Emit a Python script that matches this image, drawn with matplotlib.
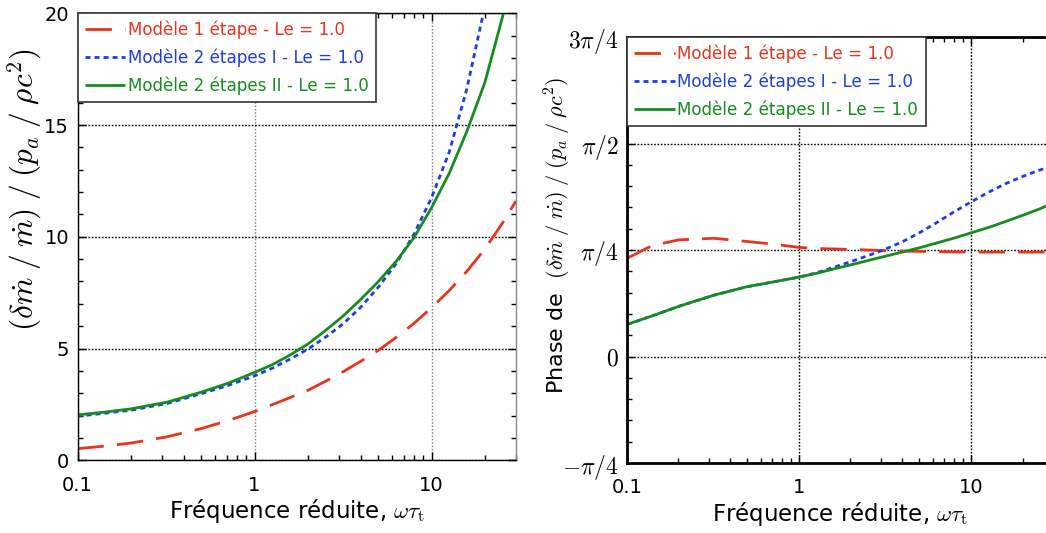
import numpy as np
import matplotlib
matplotlib.use("Agg")
import matplotlib.pyplot as plt
from matplotlib.ticker import FixedLocator, LogLocator, NullFormatter, FixedFormatter, MultipleLocator

# --- data -------------------------------------------------------------
labels = ["Modèle 1 étape - Le = 1.0",
          "Modèle 2 étapes I - Le = 1.0",
          "Modèle 2 étapes II - Le = 1.0"]

# reduced frequency samples (omega * tau_t)
freq = [0.1, 0.14, 0.2, 0.32, 0.5, 0.71, 1.0, 1.26, 1.58, 2.0, 2.51, 3.16, 3.98,
        5.01, 6.31, 7.94, 10.0, 12.6, 15.8, 20.0, 25.1, 30.0]

# amplitude of the response
amp_red = [0.52, 0.63, 0.77, 1.05, 1.42, 1.78, 2.18, 2.49, 2.80, 3.13, 3.53, 3.96, 4.43,
           4.92, 5.50, 6.12, 6.83, 7.60, 8.45, 9.45, 10.6, 11.6]
amp_blue = [1.97, 2.10, 2.24, 2.54, 2.98, 3.35, 3.78, 4.12, 4.52, 4.97, 5.50, 6.10, 6.85,
            7.75, 8.80, 10.1, 11.75, 13.8, 16.6, 20.3, 25.0, 29.0]
amp_green = [2.03, 2.15, 2.30, 2.60, 3.05, 3.45, 3.93, 4.28, 4.70, 5.20, 5.80, 6.45, 7.20,
             8.00, 8.90, 9.95, 11.3, 12.85, 14.7, 16.9, 19.8, 22.5]

# phase of the response, in units of pi/4
ph_red = [0.92, 1.04, 1.095, 1.11, 1.08, 1.055, 1.025, 1.015, 1.01, 1.005, 1.0, 0.995,
          0.99, 0.987, 0.985, 0.982, 0.98, 0.98, 0.98, 0.98, 0.98, 0.98]
ph_blue = [0.30, 0.38, 0.47, 0.575, 0.655, 0.70, 0.745, 0.785, 0.835, 0.89, 0.945, 1.005,
           1.075, 1.16, 1.255, 1.355, 1.45, 1.54, 1.62, 1.69, 1.75, 1.79]
ph_green = [0.30, 0.38, 0.47, 0.575, 0.655, 0.70, 0.745, 0.78, 0.82, 0.86, 0.90, 0.94,
            0.98, 1.02, 1.065, 1.11, 1.16, 1.21, 1.265, 1.325, 1.385, 1.44]

phase_ticks = [-1, 0, 1, 2, 3]
phase_ticklabels = [r"$-\pi/4$", r"$0$", r"$\pi/4$", r"$\pi/2$", r"$3\pi/4$"]

# --- style ------------------------------------------------------------
plt.rcParams["font.family"] = ["DejaVu Sans"]
plt.rcParams["mathtext.fontset"] = "cm"
plt.rcParams["lines.scale_dashes"] = False

RED = "#E8341C"
BLUE = "#1E3CE6"
GREEN = "#178C1E"
colors = [RED, BLUE, GREEN]
dashes = [(19, 9.5), (3.6, 2.9), None]
LW = 2.0
YLABEL_MATH = r"$(\delta\dot{m}\;/\;\dot{m})\;/\;(p_a\;/\;\rho c^2)$"

fig = plt.figure(figsize=(10.46, 5.33), dpi=100)
W, H = 1046, 533


def px_axes(x0, y0, x1, y1):
    return fig.add_axes([x0 / W, 1 - y1 / H, (x1 - x0) / W, (y1 - y0) / H])


ax1 = px_axes(77.5, 13.3, 516, 460.3)
ax2 = px_axes(626.7, 37, 1052.8, 463)


def draw(ax, series):
    handles = []
    for ys, c, d, lab in zip(series, colors, dashes, labels):
        ln, = ax.plot(freq, ys, color=c, lw=LW, label=lab, solid_capstyle="butt",
                      dash_capstyle="butt")
        if d is not None:
            ln.set_dashes(d)
        handles.append(ln)
    return handles


def decorate(ax, spine_lw, vgrid_color):
    ax.set_xscale("log")
    ax.set_xlim(0.1, 30)
    ax.xaxis.set_major_locator(FixedLocator([0.1, 1, 10]))
    ax.xaxis.set_major_formatter(FixedFormatter(["0.1", "1", "10"]))
    ax.xaxis.set_minor_locator(LogLocator(base=10, subs=np.arange(2, 10)))
    ax.xaxis.set_minor_formatter(NullFormatter())
    ax.tick_params(which="both", direction="in", top=True, right=True,
                   labelsize=14, width=1.0)
    ax.tick_params(which="major", length=6)
    ax.tick_params(which="minor", length=3.5)
    ax.tick_params(axis="x", pad=11)
    ax.tick_params(axis="y", pad=6)
    for s in ax.spines.values():
        s.set_linewidth(spine_lw)
    ax.xaxis.grid(True, which="major", color=vgrid_color, ls=(0, (1.2, 1.2)), lw=1.0)
    ax.yaxis.grid(True, which="major", color="black", ls=(0, (1.2, 1.2)), lw=1.0)
    ax.set_xlabel(r"Fréquence réduite, $\omega\tau_{\mathrm{t}}$", fontsize=16.5, labelpad=2)


def legend(ax, handles):
    leg = ax.legend(handles=handles, loc="upper left", borderaxespad=0,
                    fontsize=12.1, handlelength=2.4, handletextpad=0.15,
                    labelspacing=0.55, borderpad=0.45, fancybox=False,
                    framealpha=1, edgecolor="#333333")
    leg.get_frame().set_linewidth(1.2)
    for t, c in zip(leg.get_texts(), colors):
        t.set_color(c)
    return leg


# left panel: amplitude
h1 = draw(ax1, [amp_red, amp_blue, amp_green])
decorate(ax1, 1.0, "#8a8a8a")
ax1.spines["right"].set_color("#888888")
ax1.set_ylim(0, 20)
ax1.yaxis.set_major_locator(FixedLocator([0, 5, 10, 15, 20]))
ax1.yaxis.set_minor_locator(MultipleLocator(1))
ax1.set_ylabel(YLABEL_MATH, fontsize=22.5)
ax1.yaxis.set_label_coords(-0.077, 0.605)
legend(ax1, h1)

# right panel: phase
h2 = draw(ax2, [[v * np.pi / 4 for v in ph_red],
                [v * np.pi / 4 for v in ph_blue],
                [v * np.pi / 4 for v in ph_green]])
decorate(ax2, 2.0, "black")
ax2.set_ylim(-np.pi / 4, 3 * np.pi / 4)
ax2.yaxis.set_major_locator(FixedLocator([v * np.pi / 4 for v in phase_ticks]))
ax2.yaxis.set_major_formatter(FixedFormatter(phase_ticklabels))
ax2.yaxis.set_minor_locator(MultipleLocator(np.pi / 20))
ax2.tick_params(axis="y", labelsize=17)
ax2.set_ylabel("Phase de  " + YLABEL_MATH, fontsize=16)
ax2.yaxis.set_label_coords(-0.125, 0.535)
legend(ax2, h2)

fig.savefig("out.png", dpi=100)
